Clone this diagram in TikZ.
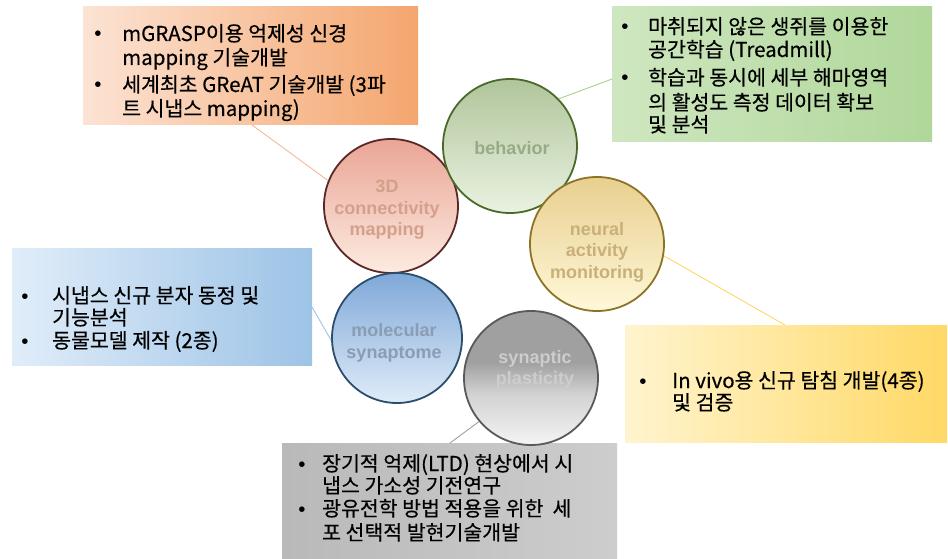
\documentclass[tikz,border=0pt]{standalone}
\usepackage{fontspec}
\newfontfamily\kr[FakeBold=0.4]{Noto Sans CJK KR}
\newfontfamily\lib{Liberation Sans}
\definecolor{orL}{HTML}{FCE3D4}
\definecolor{orR}{HTML}{F4A66E}
\definecolor{grL}{HTML}{CFE7C0}
\definecolor{grR}{HTML}{B0D79A}
\definecolor{blL}{HTML}{E0EDF9}
\definecolor{blR}{HTML}{9DC3E6}
\definecolor{yeL}{HTML}{FFF4CF}
\definecolor{yeR}{HTML}{FFD966}
\definecolor{gyL}{HTML}{B9B9B9}
\definecolor{gyR}{HTML}{CDCDCD}
\definecolor{orLine}{HTML}{F4B9A0}
\definecolor{grLine}{HTML}{A9D08E}
\definecolor{yeLine}{HTML}{FFD966}
\definecolor{blLine}{HTML}{9DC3E6}
\definecolor{gyLine}{HTML}{A0A0A0}
\definecolor{bhT}{HTML}{B0C59B}\definecolor{bhB}{HTML}{EAF2E1}\definecolor{bhD}{HTML}{4B6A2A}\definecolor{bhX}{HTML}{98AB88}
\definecolor{dT}{HTML}{E9A595}\definecolor{dB}{HTML}{FDEBE1}\definecolor{dD}{HTML}{5B2828}\definecolor{dX}{HTML}{D4A08C}
\definecolor{nT}{HTML}{E8CF8F}\definecolor{nB}{HTML}{FFF8D8}\definecolor{nD}{HTML}{8C7326}\definecolor{nX}{HTML}{C9B07A}
\definecolor{mT}{HTML}{7FA8D8}\definecolor{mB}{HTML}{E0ECF8}\definecolor{mD}{HTML}{2C4E6E}\definecolor{mX}{HTML}{8A9DB5}
\definecolor{sT}{HTML}{A0A0A0}\definecolor{sM}{HTML}{D2D2D2}\definecolor{sB}{HTML}{F4F4F4}\definecolor{sD}{HTML}{595959}\definecolor{sX}{HTML}{CDCDCD}
\pgfdeclareverticalshading{synsh}{100bp}{color(0bp)=(sB); color(25bp)=(sB); color(44bp)=(sM); color(56bp)=(sT); color(100bp)=(sT)}
\begin{document}
\begin{tikzpicture}[x=1pt,y=-1pt,
  box/.style={rectangle, inner sep=0pt, draw=none},
  circ/.style={circle, minimum size=134pt, inner sep=0pt, line width=1.8pt},
  ctext/.style={inner sep=0pt, align=center, font=\lib\bfseries\fontsize{18}{21.5}\selectfont},
  bl/.style={anchor=base, inner sep=0pt, font=\lib\fontsize{20.5}{24}\selectfont, text=black},
  tl/.style={anchor=base west, inner sep=0pt, font=\kr\fontsize{20.5}{24}\selectfont, text=black},
  conn/.style={line width=0.9pt}]
\useasboundingbox (0,0) rectangle (948,559);
\fill[white] (0,0) rectangle (948,559);
% boxes
\node[box, left color=orL, right color=orR, minimum width=335pt, minimum height=118pt] (ob) at (250.5,66) {};
\node[box, left color=grL, right color=grR, minimum width=320pt, minimum height=135pt] (gb) at (772,74.5) {};
\node[box, left color=blL, right color=blR, minimum width=300pt, minimum height=117pt] (bb) at (162,306.5) {};
\node[box, left color=yeL, right color=yeR, minimum width=322pt, minimum height=117pt] (yb) at (786,383.5) {};
\node[box, left color=gyL, right color=gyR, minimum width=335pt, minimum height=116pt] (kb) at (449.5,501) {};
% circles
\node[circ, draw=dD, top color=dT, bottom color=dB] (d3) at (391,206) {};
\node[circ, draw=bhD, top color=bhT, bottom color=bhB] (bh) at (510,146) {};
\node[circ, draw=nD, top color=nT, bottom color=nB] (ne) at (597,244) {};
\node[circ, draw=sD, shading=synsh] (sy) at (531,378) {};
\node[circ, draw=mD, top color=mT, bottom color=mB, minimum size=130pt] (mo) at (397,338) {};
\node[ctext, text=dX] (d3t) at (387,210) {3D\\connectivity\\mapping};
\node[ctext, text=bhX] (bht) at (512,148) {behavior};
\node[ctext, text=nX] (net) at (597,252) {neural\\activity\\monitoring};
\node[ctext, text=sX] (syt) at (535,369.5) {synaptic\\plasticity};
\node[ctext, text=mX] (mot) at (394,343) {molecular\\synaptome};
% connectors
\coordinate (oc) at (252,125);
\coordinate (gc) at (612,79);
\coordinate (yc) at (785,325);
\coordinate (bc) at (312,307);
\coordinate (kc) at (450,443);
\draw[conn, draw=orLine] (oc) -- (d3.158);
\draw[conn, draw=grLine] (bh.44) -- (gc);
\draw[conn, draw=yeLine] (ne.-10) -- (yc);
\draw[conn, draw=blLine] (bc) -- (mo.182);
\draw[conn, draw=gyLine] (kc) -- (sy.220);
% orange text
\node[bl] (ob1) at (98,41) {•};
\node[tl] (ot1) at (122,41) {mGRASP이용 억제성 신경};
\node[tl] (ot2) at (122,65) {mapping 기술개발};
\node[bl] (ob2) at (98,92) {•};
\node[tl] (ot3) at (122,92) {세계최초 GReAT 기술개발 (3파};
\node[tl] (ot4) at (122,116) {트 시냅스 mapping)};
% green text
\node[bl] (gb1) at (625,34) {•};
\node[tl] (gt1) at (648,34) {마취되지 않은 생쥐를 이용한};
\node[tl] (gt2) at (648,57) {공간학습 (Treadmill)};
\node[bl] (gb2) at (625,85) {•};
\node[tl] (gt3) at (648,85) {학습과 동시에 세부 해마영역};
\node[tl] (gt4) at (648,110) {의 활성도 측정 데이터 확보};
\node[tl] (gt5) at (648,132) {및 분석};
% blue text
\node[bl] (bb1) at (25,303) {•};
\node[tl] (bt1) at (52,303) {시냅스 신규 분자 동정 및};
\node[tl] (bt2) at (52,325) {기능분석};
\node[bl] (bb2) at (25,348) {•};
\node[tl] (bt3) at (52,348) {동물모델 제작 (2종)};
% yellow text
\node[bl] (yb1) at (643,388) {•};
\node[tl] (yt1) at (672,388) {In vivo용 신규 탐침 개발(4종)};
\node[tl] (yt2) at (672,410) {및 검증};
% gray text
\node[bl] (kb1) at (302,471) {•};
\node[tl] (kt1) at (322,471) {장기적 억제(LTD) 현상에서 시};
\node[tl] (kt2) at (322,493) {냅스 가소성 기전연구};
\node[bl] (kb2) at (302,516) {•};
\node[tl] (kt3) at (322,516) {광유전학 방법 적용을 위한 \ 세};
\node[tl] (kt4) at (322,540) {포 선택적 발현기술개발};
\end{tikzpicture}
\end{document}
